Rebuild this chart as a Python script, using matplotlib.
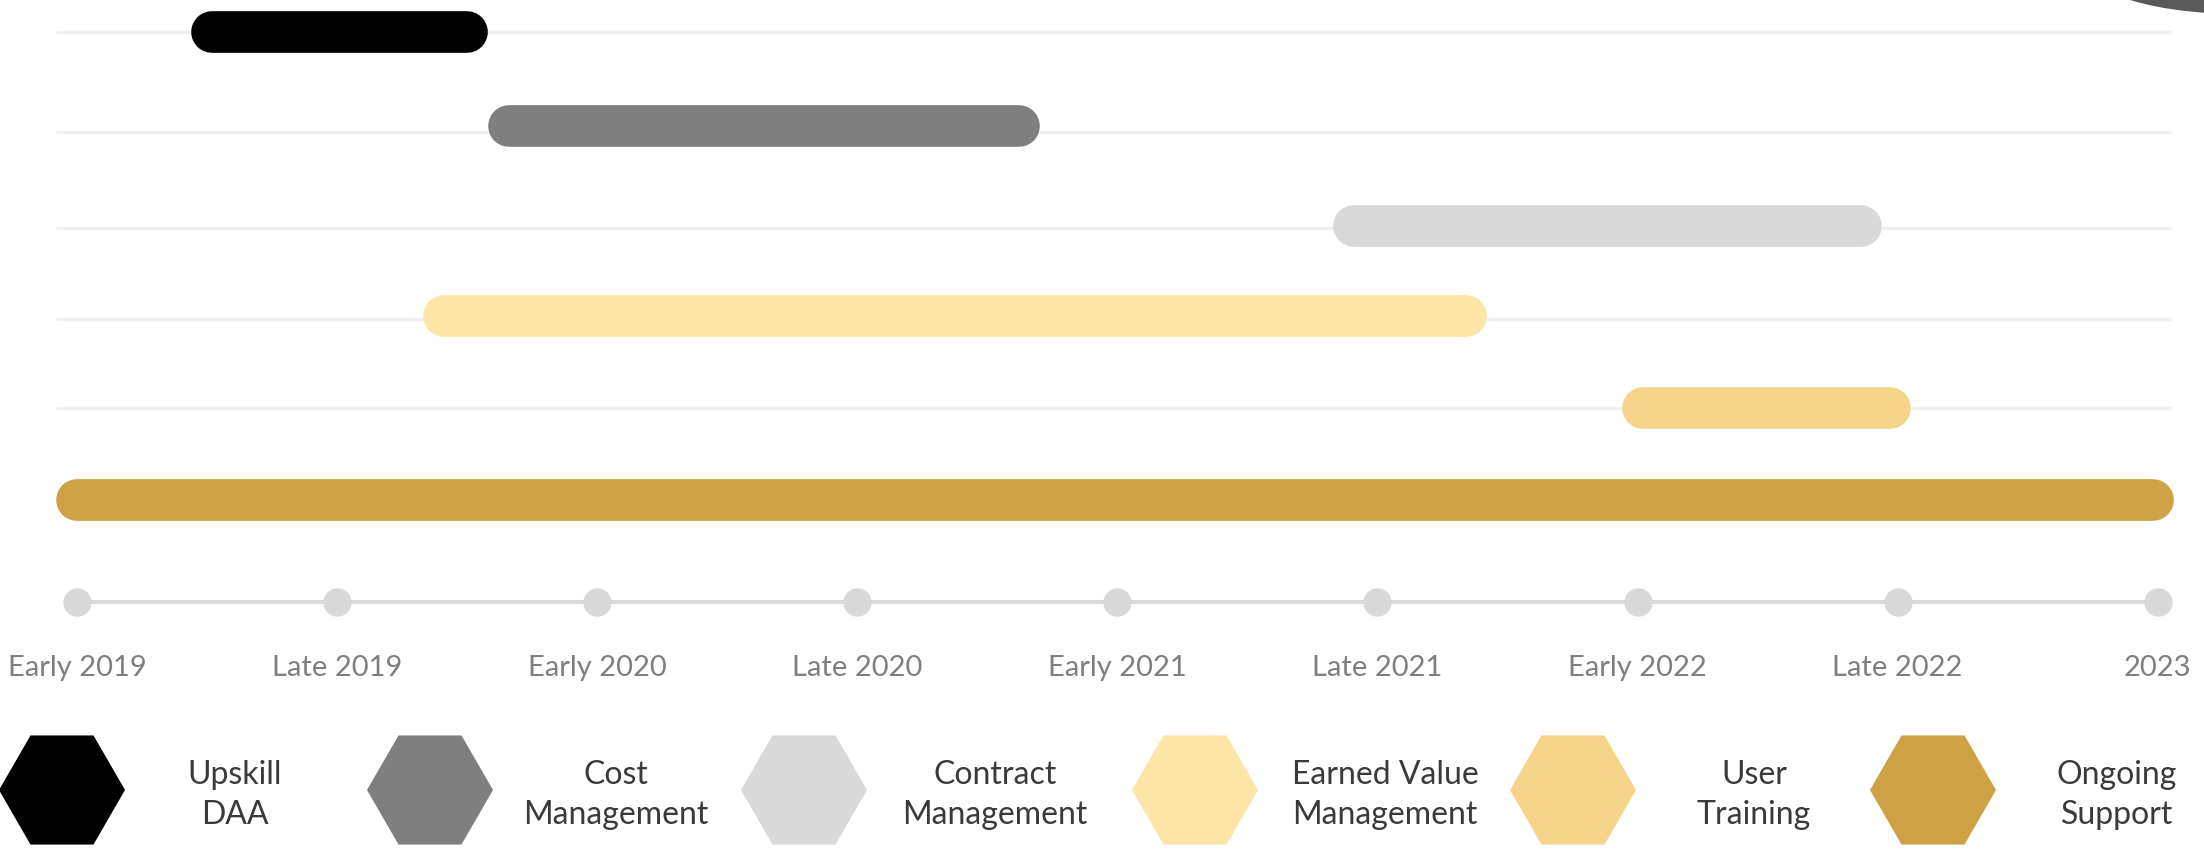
import numpy as np
import matplotlib.pyplot as plt
from matplotlib.patches import RegularPolygon, Ellipse

plt.rcParams['font.family'] = ['Lato', 'DejaVu Sans']

# tasks, top to bottom
tasks = ['Upskill\nDAA', 'Cost\nManagement', 'Contract\nManagement',
         'Earned Value\nManagement', 'User\nTraining', 'Ongoing\nSupport']
# start / end of each task, in half-years counted from "Early 2019"
starts = [0.52, 1.66, 4.91, 1.41, 6.02, 0.0]
ends = [1.50, 3.62, 6.86, 5.34, 6.97, 7.98]
colors = ['#000000', '#7f7f7f', '#d9d9d9', '#ffe4a8', '#f5d48a', '#cda144']

periods = ['Early 2019', 'Late 2019', 'Early 2020', 'Late 2020', 'Early 2021',
           'Late 2021', 'Early 2022', 'Late 2022', '2023']

# row placement (layout only)
bar_y = [0, 1.004, 2.073, 3.034, 4.017, 5.0]
grid_y = [0, 1.068, 2.094, 3.066, 4.017]

fig = plt.figure(figsize=(22.04, 8.51), dpi=100)

# main axes: x in half-years, y in rows
ax = fig.add_axes([0, 0, 1, 1])
ax.set_xlim(-0.296, 8.178)
ax.set_ylim(8.75, -0.342)
ax.axis('off')

ax.hlines(grid_y, -0.08, 8.05, color='#f0f0f0', lw=2.2, zorder=1)

for y, s, e, c in zip(bar_y, starts, ends, colors):
    ax.plot([s, e], [y, y], color=c, lw=30, solid_capstyle='round', zorder=2)

# timeline
tl_y = len(tasks) + 0.09
ticks = np.arange(len(periods))
ax.plot([ticks[0], ticks[-1]], [tl_y, tl_y], color='#d9d9d9', lw=2.9, zorder=2)
ax.plot(ticks, [tl_y] * len(ticks), 'o', color='#d9d9d9', ms=19.4, zorder=3)
for t, lab in zip(ticks, periods):
    ax.text(t, tl_y + 0.70, lab, ha='center', va='center', fontsize=21,
            color='#7f7f7f')

# legend / decoration overlay in pixel units
lax = fig.add_axes([0, 0, 1, 1])
lax.set_xlim(0, 2204)
lax.set_ylim(851, 0)
lax.axis('off')
lax.patch.set_alpha(0)

hex_x = [62, 430, 804, 1195, 1573, 1933]
text_x = [235, 616, 995, 1385, 1754, 2117]
leg_y = 790
for hx, tx, lab, c in zip(hex_x, text_x, tasks, colors):
    lax.add_patch(RegularPolygon((hx, leg_y), 6, radius=63, orientation=np.pi / 6,
                                 facecolor=c, edgecolor='none'))
    lax.text(tx, leg_y + 5, lab, ha='center', va='center', fontsize=23,
             color='#3a3a3a', linespacing=1.45)

lax.add_patch(Ellipse((2240, -30), 300, 88, facecolor='#595959', edgecolor='none'))

fig.savefig('out.png', dpi=100, facecolor='white')
